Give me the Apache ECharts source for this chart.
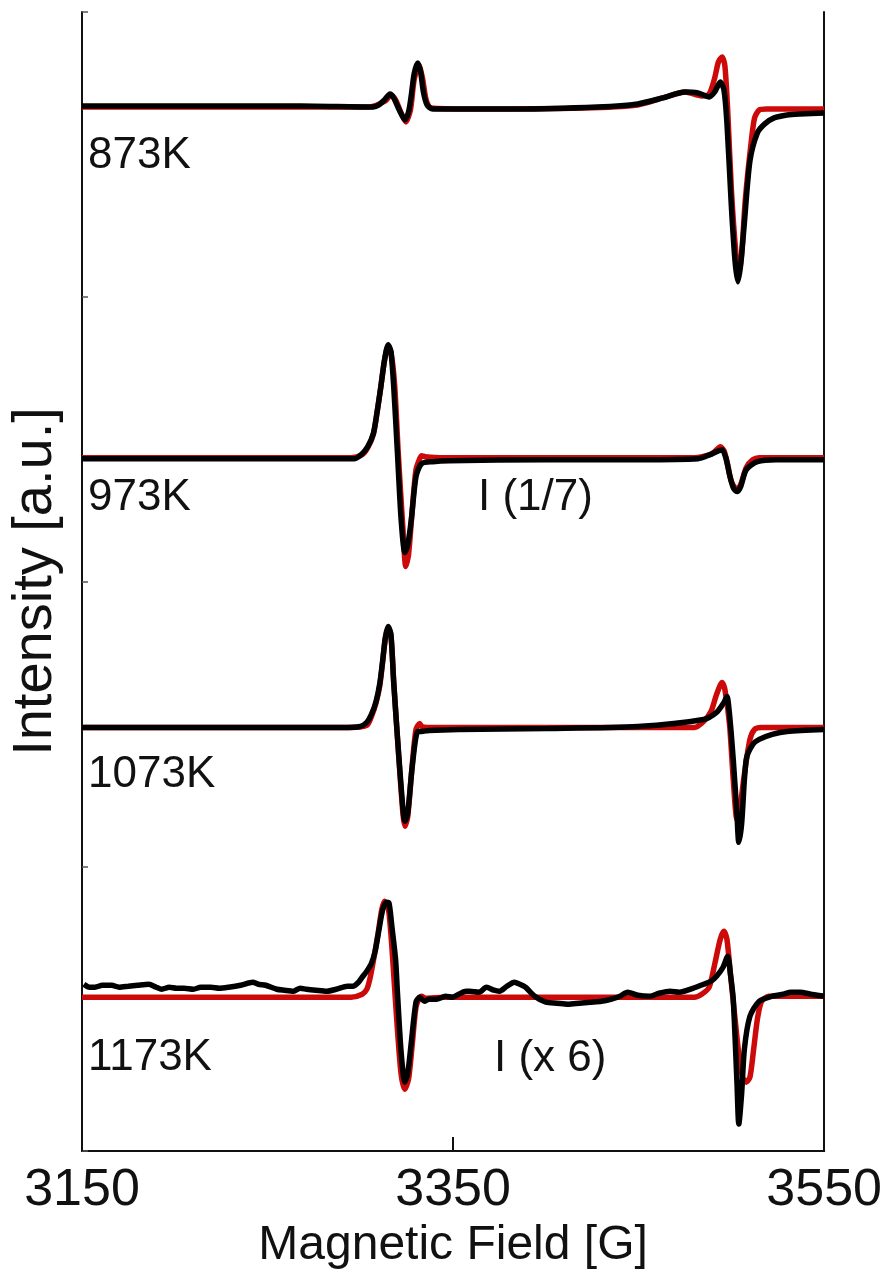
<!DOCTYPE html>
<html>
<head>
<meta charset="utf-8">
<script src="https://cdn.jsdelivr.net/npm/echarts@6/dist/echarts.min.js"></script>
<style>html,body{margin:0;padding:0;background:#fff;overflow:hidden}#c{width:885px;height:1275px}</style>
</head>
<body>
<div id="c"></div>
<script>
// Field axis ticks (G)
const xTicks = [3150, 3350, 3550];
// Spectrum temperatures and stacking offsets (a.u.)
const temps = ['873K', '973K', '1073K', '1173K'];
const offsets = [1046, 694, 424, 155];
const annotations = ['I (1/7)', 'I (x 6)'];

// [field G, intensity relative to baseline, a.u.]
const exp873 = [[3150,0],[3214,0],[3268,0],[3307,-1],[3310,1],[3313,6],[3316,12],[3318,8],[3321,-4],[3324,-14],[3326,-6],[3327.5,11],[3329,32],[3331,43],[3332.5,34],[3334,14],[3336,1],[3339,-3],[3353,-3],[3385,-3],[3428,-1],[3449.5,2],[3463,8],[3475,14],[3482,13],[3488,9],[3491,14],[3494,24],[3496,16],[3497.6,-17],[3500,-101],[3502,-156],[3503.5,-176],[3505,-159],[3507,-117],[3510,-55],[3514,-27],[3518,-18],[3523,-12],[3530,-9],[3537,-8],[3550,-7]];
const fit873 = [[3150,-1],[3305,-1],[3313.5,5],[3316.5,11],[3319,6],[3322,-7],[3324.5,-16],[3327,-4],[3329,26],[3331.5,41],[3333.5,28],[3335.5,6],[3338,-2],[3360,-3],[3420,-2],[3449.5,1],[3463,8],[3475,14],[3484,10],[3488,12],[3491,28],[3493,44],[3495,49],[3496.5,40],[3498,-4],[3500,-84],[3502.5,-149],[3504,-167],[3505.5,-149],[3507.5,-94],[3510.5,-39],[3512.5,-12],[3515,-4],[3519,-3],[3550,-3]];

const exp973 = [[3150,-1],[3280,-1],[3297,-1],[3301,4],[3304,11],[3307,24],[3309,45],[3311,70],[3313,97],[3315,113],[3316.5,106],[3318,71],[3320,5],[3322,-62],[3324,-95],[3325.5,-88],[3327.5,-62],[3330,-19],[3333,-6],[3339,-4],[3348,-3],[3400,-2],[3450,-2],[3482,-1],[3488.5,3],[3492,6],[3495,8],[3497,0],[3499,-17],[3501,-30],[3503,-34],[3505,-29],[3508,-12],[3514,-4],[3524,-2],[3550,-2]];
const fit973 = [[3150,0],[3295,0],[3301,3],[3304,10],[3307,23],[3309,45],[3311,70],[3313,97],[3315,112],[3316.5,106],[3318.5,73],[3320.5,3],[3323,-72],[3324.5,-109],[3326,-97],[3328,-52],[3330,-12],[3332,-1],[3333,2],[3335,1],[3345,0],[3480,0],[3488.5,3],[3491,6],[3494,11],[3496,7],[3498,-7],[3500,-24],[3503,-32],[3505,-27],[3508,-10],[3511.5,-2],[3515,0],[3550,0]];

const exp1073 = [[3150,0],[3290,0],[3300,1],[3303.5,5],[3306,13],[3308.5,26],[3310.5,44],[3312,66],[3313.5,90],[3315,101],[3316.5,93],[3318,45],[3320.5,-22],[3323,-82],[3324,-94],[3325.5,-87],[3328,-39],[3331,-4],[3333,-4],[3337,-3],[3353,-2],[3401,-1],[3449.5,1],[3485,8],[3492,15],[3496,25],[3497.6,31],[3499,13],[3501,-32],[3503,-87],[3504,-115],[3505.5,-97],[3508,-32],[3511.5,-17],[3515,-12],[3522,-7],[3530,-4],[3550,-2]];
const fit1073 = [[3150,0],[3295,0],[3303.5,2],[3306,11],[3308.5,25],[3310.5,42],[3312,65],[3313.5,89],[3315,100],[3316.5,92],[3318,46],[3320.5,-24],[3323,-87],[3324,-99],[3325.5,-90],[3328,-37],[3330,-2],[3332,4],[3333,1],[3336,0],[3480,0],[3485,6],[3489,16],[3492,33],[3495,45],[3496.5,38],[3499,3],[3501,-52],[3503,-92],[3504.5,-82],[3507,-47],[3510,-12],[3512.5,-2],[3516,0],[3550,0]];

const exp1173 = [[3151,12],[3154,9],[3157,9],[3161,11],[3166,11],[3170,9],[3175,10],[3180,11],[3186,12],[3190,9],[3193,7],[3197,9],[3201,8],[3205,8],[3210,7],[3214,9],[3219.5,9],[3224,8],[3229,9],[3235.5,11],[3242,14],[3245,12],[3249,11],[3255,7],[3259,6],[3264,5],[3267.6,8],[3271,7],[3276,6],[3282,5],[3287,7],[3293,10],[3296,10],[3299,14],[3301,19],[3303.5,25],[3306,33],[3308,45],[3310,66],[3312,86],[3314,94],[3315.5,93],[3317,70],[3319,37],[3320,4],[3322,-56],[3324,-86],[3325.5,-78],[3327.5,-46],[3330,-6],[3332,-1],[3334.5,-5],[3337,-3],[3341,-3],[3346,0],[3349.5,-1],[3353,2],[3357,5],[3359,5],[3364,4],[3368,9],[3372,6],[3375,5],[3379,10],[3383,14],[3386,12],[3389,9],[3394,0],[3400,-6],[3406,-7],[3412,-8],[3418,-7],[3424,-6],[3430,-5],[3435,-3],[3440,0],[3444,4],[3449.5,1],[3456,0],[3461,3],[3467,5],[3472,4],[3478,7],[3485,12],[3489,15],[3492,20],[3495.5,29],[3498,40],[3499.5,22],[3501,-3],[3503,-86],[3504,-128],[3505.5,-98],[3507,-53],[3510,-20],[3515,-5],[3522,0],[3528,2],[3532,4],[3537,4],[3543,2],[3550,0]];
const fit1173 = [[3150,-1],[3295,-1],[3301,2],[3303.5,7],[3305,16],[3307,35],[3309.5,62],[3311.5,86],[3313,95],[3315,89],[3316.5,62],[3318,22],[3320,-33],[3322,-78],[3324,-93],[3326,-83],[3328,-48],[3330,-11],[3332,-1],[3333,0],[3335,-2],[3345,-1],[3480,-1],[3484,2],[3488,9],[3491,32],[3494,57],[3496,65],[3497.6,57],[3499.5,22],[3502,-23],[3504,-58],[3506,-81],[3508,-86],[3510,-81],[3512,-53],[3514,-23],[3516,-6],[3518,-2],[3520,0],[3550,0]];

const expSets = [exp873, exp973, exp1073, exp1173];
const fitSets = [fit873, fit973, fit1073, fit1173];

function shift(arr, off) { return arr.map(p => [p[0], p[1] + off]); }

const series = [];
fitSets.forEach((d, i) => series.push({
  type: 'line', data: shift(d, offsets[i]), showSymbol: false, smooth: 0.25,
  lineStyle: { color: '#cc0a0a', width: 5.5 }, z: 2, silent: true, animation: false
}));
expSets.forEach((d, i) => series.push({
  type: 'line', data: shift(d, offsets[i]), showSymbol: false, smooth: 0.25,
  lineStyle: { color: '#000', width: 5.5 }, z: 3, silent: true, animation: false
}));

const FONT = '"Liberation Sans", Arial, sans-serif';
const txt = (t, x, y) => ({ type: 'text', left: x, top: y, style: { text: t, font: '44px ' + FONT, fill: '#111' } });

const chart = echarts.init(document.getElementById('c'), null, { renderer: 'canvas' });
chart.setOption({
  animation: false,
  backgroundColor: '#fff',
  grid: { left: 80, right: 57, top: 12, bottom: 123, containLabel: false },
  xAxis: [{
    type: 'value', min: xTicks[0], max: xTicks[2], interval: 200,
    name: 'Magnetic Field [G]', nameLocation: 'middle', nameGap: 68,
    nameTextStyle: { fontSize: 48, color: '#111', fontFamily: FONT },
    axisLine: { lineStyle: { color: '#111', width: 2 } },
    axisTick: { inside: true, length: 14, lineStyle: { color: '#111', width: 2 } },
    axisLabel: { fontSize: 52, color: '#111', margin: 14, fontFamily: FONT, formatter: v => String(v) },
    splitLine: { show: false }
  }, {
    type: 'value', position: 'top', min: xTicks[0], max: xTicks[2],
    axisLine: { show: true, lineStyle: { color: '#111', width: 2 } },
    axisTick: { show: false }, axisLabel: { show: false }, splitLine: { show: false }
  }],
  yAxis: [{
    type: 'value', min: 0, max: 1140, interval: 285,
    name: 'Intensity [a.u.]', nameLocation: 'middle', nameGap: 18,
    nameTextStyle: { fontSize: 56, color: '#111', fontFamily: FONT },
    axisLine: { show: true, lineStyle: { color: '#111', width: 2 } },
    axisTick: { show: true, inside: true, length: 6, lineStyle: { color: '#555', width: 1.5 } },
    axisLabel: { show: false }, splitLine: { show: false }
  }, {
    type: 'value', position: 'right', min: 0, max: 1140,
    axisLine: { show: true, lineStyle: { color: '#111', width: 2 } },
    axisTick: { show: false }, axisLabel: { show: false }, splitLine: { show: false }
  }],
  series: series,
  graphic: [
    txt(temps[0], 88, 134),
    txt(temps[1], 88, 476),
    txt(temps[2], 88, 753),
    txt(temps[3], 88, 1036),
    txt(annotations[0], 478, 476),
    txt(annotations[1], 494, 1037)
  ]
});
</script>
</body>
</html>
